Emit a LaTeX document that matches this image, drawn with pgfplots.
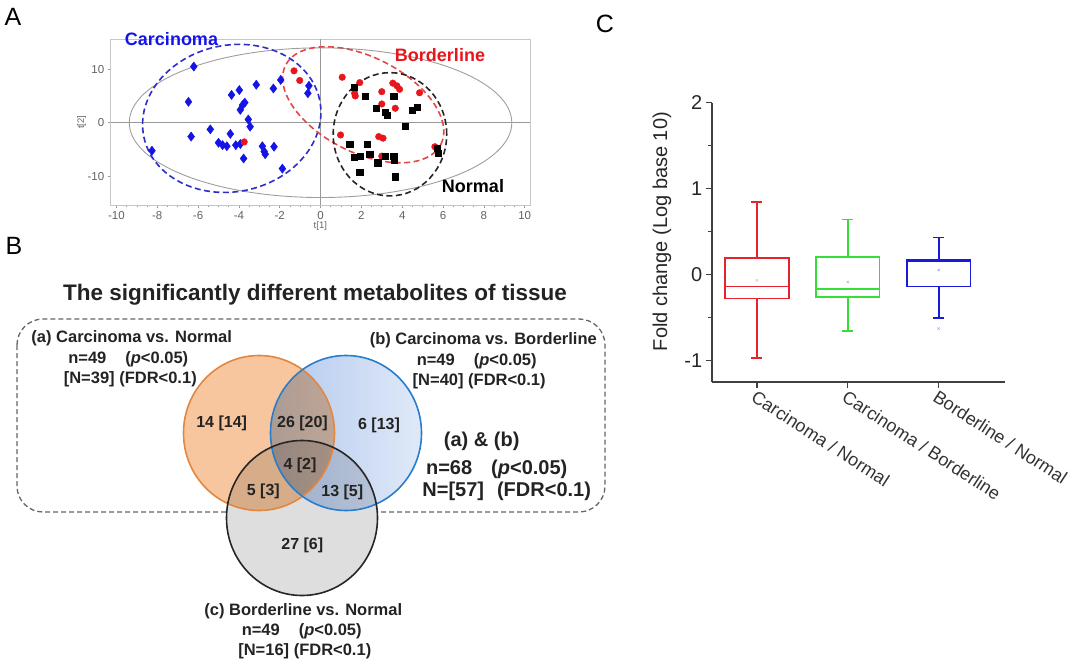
\documentclass[border=0pt]{standalone}
\usepackage{fontspec}
\setmainfont{Liberation Sans}
\usepackage{pgfplots}
\pgfplotsset{compat=1.18}
\usepgfplotslibrary{statistics}
\usetikzlibrary{calc}

\definecolor{pblue}{RGB}{20,20,230}
\definecolor{pred}{RGB}{232,22,28}
\definecolor{eblue}{RGB}{45,45,205}
\definecolor{ered}{RGB}{232,70,70}
\definecolor{cred}{RGB}{228,35,45}
\definecolor{cgreen}{RGB}{55,222,55}
\definecolor{cblue}{RGB}{25,25,215}
\definecolor{vor}{RGB}{247,198,158}
\definecolor{vorline}{RGB}{225,135,65}
\definecolor{vbl1}{RGB}{178,200,238}
\definecolor{vbl2}{RGB}{224,233,248}
\definecolor{vblline}{RGB}{40,125,205}
\definecolor{vgr}{RGB}{222,222,222}
\definecolor{txt}{RGB}{35,35,35}

\newcommand\fs[1]{\fontsize{#1}{#1}\selectfont}

\begin{document}
\begin{tikzpicture}

% ---------------- A: score plot ----------------
\begin{axis}[
  at={(110.7pt,-39.3pt)}, anchor=north west,
  width=419.3pt, height=165.7pt, scale only axis,
  xmin=-10.28, xmax=10.26, ymin=-15.4, ymax=15.6,
  xtick={-10,-8,...,10}, ytick={-10,0,10},
  minor x tick num=3,
  tick pos=left, tick align=outside,
  major tick length=3pt, minor tick length=2pt,
  axis line style={draw=black!22, line width=0.9pt},
  tick style={draw=black!40, line width=0.6pt},
  ticklabel style={font=\fs{11.5}, text=black!62},
  /pgf/number format/assume math mode=true,
  xlabel={t[1]}, ylabel={t[2]},
  label style={font=\fs{9.5}, text=black!60},
  xlabel style={at={(axis description cs:0.5,-0.128)}, anchor=center},
  ylabel style={at={(axis description cs:-0.069,0.5)}, anchor=center},
  clip=false,
]
\draw[black!40, line width=0.8pt] (axis cs:0,-15.4) -- (axis cs:0,15.6);
\draw[black!40, line width=0.8pt] (axis cs:-10.28,0) -- (axis cs:10.26,0);
\draw[black!38, line width=0.9pt] (axis cs:0,0) ellipse [x radius=9.37, y radius=14];

% Carcinoma
\addplot[only marks, mark=diamond*, mark size=4.6pt, color=pblue] coordinates {
(-6.21,10.5) (-6.47,3.9) (-6.34,-2.6) (-8.26,-5.25) (-5.40,-1.25) (-5.0,-3.75)
(-4.8,-4.2) (-4.59,-4.4) (-4.42,-2.1) (-4.36,5.2) (-3.98,6.1) (-4.15,-4.2)
(-3.93,-4.0) (-3.77,-6.7) (-3.82,3.3) (-3.71,3.75) (-3.93,2.4) (-3.54,0.6)
(-3.45,-0.75) (-3.15,7.1) (-2.85,-4.4) (-2.76,-5.4) (-2.71,-5.9) (-2.28,-4.5)
(-2.31,6.4) (-1.95,8.0) (-1.87,-8.6) (-0.57,6.9) (-0.62,5.5)
};
% Borderline
\addplot[only marks, mark=*, mark size=3.3pt, color=pred] coordinates {
(-3.74,-3.6) (-1.3,9.7) (-1.02,7.9) (1.06,8.5) (1.92,7.5) (1.67,5.5) (1.7,5.0)
(3.0,5.8) (3.54,7.4) (3.74,6.9) (3.87,6.25) (3.0,3.5) (3.66,2.7) (4.85,5.6)
(0.98,-2.3) (2.85,-2.6) (3.06,-2.9) (3.0,-6.25) (5.6,-4.5)
};
% Normal
\addplot[only marks, mark=square*, mark size=3.1pt, color=black] coordinates {
(1.63,6.6) (2.2,5.0) (2.73,2.7) (3.17,1.9) (3.28,1.45) (3.58,4.9) (4.15,-0.6)
(4.47,2.4) (4.72,2.9) (1.43,-4.1) (1.66,-6.5) (1.95,-6.25) (2.28,-4.1)
(2.41,-5.9) (2.8,-7.5) (3.17,-6.25) (3.58,-6.25) (3.6,-7.0) (1.92,-9.2)
(3.66,-10.1) (5.77,-5.75) (5.7,-4.8)
};

\draw[eblue, line width=1.6pt, dash pattern=on 6pt off 3.5pt,
  rotate around={12:(axis cs:-4.35,0.8)}]
  (axis cs:-4.35,0.8) ellipse [x radius=4.4, y radius=13.7];
\draw[ered, line width=1.6pt, dash pattern=on 6pt off 3.5pt,
  rotate around={-27:(axis cs:2.09,3.35)}]
  (axis cs:2.09,3.35) ellipse [x radius=4.27, y radius=8.91];
\draw[black!85, line width=1.6pt, dash pattern=on 6pt off 3.5pt]
  (axis cs:3.4,-2.17) ellipse [x radius=2.78, y radius=11.53];
\end{axis}

% ---------------- C: box plot ----------------
\begin{axis}[
  at={(711.7pt,-381.7pt)}, anchor=south west,
  width=293.3pt, height=279pt, scale only axis,
  xmin=0.504, xmax=3.73, ymin=-1.25, ymax=2,
  axis lines*=left,
  axis line style={draw=black!75, line width=1.8pt},
  ytick={-1,0,1,2}, minor y tick num=1,
  xtick={1,2,3},
  xticklabels={Carcinoma / Normal, Carcinoma / Borderline, Borderline / Normal},
  tick align=outside, major tick length=6pt, minor tick length=4pt,
  tick style={draw=black!75, line width=1.4pt},
  yticklabel style={font=\fs{20}, text=black!85},
  xticklabel style={font=\fs{18}, text=black!80, rotate=-33, anchor=north west, inner sep=1pt},
  /pgf/number format/assume math mode=true,
  ylabel={Fold change (Log base 10)},
  ylabel style={font=\fs{20}, text=black!85, at={(axis description cs:-0.17,0.538)}, anchor=center},
  boxplot/draw direction=y,
]
\addplot[draw=cred, line width=1.8pt, solid, boxplot prepared={draw position=1,
  lower whisker=-0.97, lower quartile=-0.28, median=-0.14, upper quartile=0.19,
  upper whisker=0.84, box extend=0.7, whisker extend=0.12}] coordinates {};
\addplot[draw=cgreen, line width=1.8pt, solid, boxplot prepared={draw position=2,
  lower whisker=-0.66, lower quartile=-0.26, median=-0.17, upper quartile=0.20,
  upper whisker=0.64, box extend=0.7, whisker extend=0.12}] coordinates {};
\addplot[draw=cblue, line width=1.8pt, solid, boxplot prepared={draw position=3,
  lower whisker=-0.51, lower quartile=-0.14, median=0.15, upper quartile=0.17,
  upper whisker=0.43, box extend=0.7, whisker extend=0.12}] coordinates {};
% medians, drawn at full line width
\addplot[cred, line width=1.8pt] coordinates {(0.65,-0.14) (1.35,-0.14)};
\addplot[cgreen, line width=1.8pt] coordinates {(1.65,-0.17) (2.35,-0.17)};
\addplot[cblue, line width=1.8pt] coordinates {(2.65,0.15) (3.35,0.15)};
% means
\addplot[only marks, mark=x, mark size=1.6pt, color=cred!45] coordinates {(1,-0.07)};
\addplot[only marks, mark=x, mark size=1.6pt, color=black!35] coordinates {(2,-0.09)};
\addplot[only marks, mark=x, mark size=1.6pt, color=cblue!45] coordinates {(3,0.05)};
% outlier
\addplot[only marks, mark=x, mark size=1.6pt, color=cblue!45] coordinates {(3,-0.63)};
\end{axis}

% ---------------- labels and B: Venn ----------------
\begin{scope}[x=1pt, y=-1pt]
\node[font=\fs{25}] at (13,16.7) {A};
\node[font=\fs{25}] at (14,246) {B};
\node[font=\fs{25}] at (605,24) {C};

\node[font=\fs{18}\bfseries, text=pblue] at (171.5,39) {Carcinoma};
\node[font=\fs{18}\bfseries, text=pred] at (440,55.5) {Borderline};
\node[font=\fs{18}\bfseries, text=black] at (473,186) {Normal};

\node[font=\fs{22.5}\bfseries, text=txt] at (315,295) {The significantly different metabolites of tissue};

\draw[black!60, line width=1.3pt, dash pattern=on 5pt off 3pt, rounded corners=26pt]
  (17,319) rectangle (605,512);

\begin{scope}[blend group=multiply]
\fill[vor] (259,433) ellipse (75.5pt and 77.5pt);
\shade[left color=vbl1, right color=vbl2] (346,433) ellipse (75.5pt and 77.5pt);
\fill[vgr] (302,518) ellipse (75.5pt and 77.5pt);
\end{scope}
\draw[vorline, line width=1.6pt] (259,433) ellipse (75.5pt and 77.5pt);
\draw[vblline, line width=1.6pt] (346,433) ellipse (75.5pt and 77.5pt);
\draw[black!85, line width=1.6pt] (302,518) ellipse (75.5pt and 77.5pt);

\begin{scope}[every node/.style={font=\fs{16}\bfseries, text=txt, inner sep=0pt}]
\node at (221.7,423) {14 [14]};
\node at (302.5,423) {26 [20]};
\node at (379,425) {6 [13]};
\node at (300,465) {4 [2]};
\node at (263.3,491.7) {5 [3]};
\node at (342.3,492) {13 [5]};
\node at (302.3,545) {27 [6]};
\end{scope}

\begin{scope}[every node/.style={font=\fs{16.5}\bfseries, text=txt, inner sep=0pt}]
\node at (131.7,338.3) {(a) Carcinoma vs. Normal};
\node at (128.3,359.3) {n=49\hspace{19pt}({\itshape p}<0.05)};
\node at (130.3,379.3) {[N=39] (FDR<0.1)};
\node at (483.3,340) {(b) Carcinoma vs. Borderline};
\node at (476.7,361.7) {n=49\hspace{19pt}({\itshape p}<0.05)};
\node at (479.2,381.7) {[N=40] (FDR<0.1)};
\node at (303.3,611.7) {(c) Borderline vs. Normal};
\node at (301.7,631.7) {n=49\hspace{19pt}({\itshape p}<0.05)};
\node at (304.8,651.7) {[N=16] (FDR<0.1)};
\end{scope}

\begin{scope}[every node/.style={font=\fs{20}\bfseries, text=txt, inner sep=0pt}]
\node at (481.7,441.7) {(a) \& (b)};
\node at (496.7,469.3) {n=68\hspace{19pt}({\itshape p}<0.05)};
\node at (506.7,491.7) {N=[57]\hspace{13pt}(FDR<0.1)};
\end{scope}
\end{scope}

\pgfresetboundingbox
\path (0pt,0pt) rectangle (1080pt,-666pt);
\end{tikzpicture}
\end{document}
